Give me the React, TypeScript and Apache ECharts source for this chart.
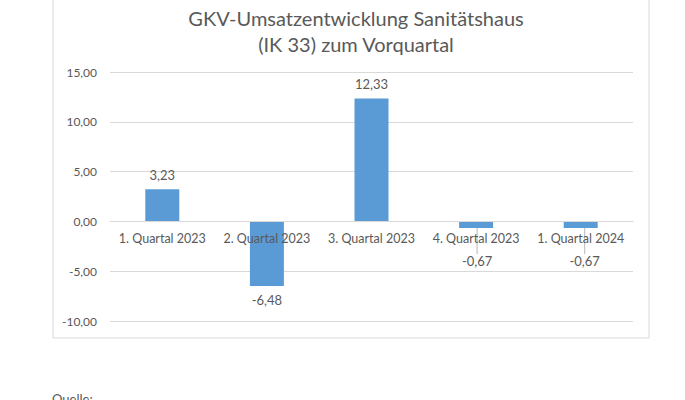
import React, { useEffect, useRef } from "react";
import * as echarts from "echarts";

const categories = ["1. Quartal 2023", "2. Quartal 2023", "3. Quartal 2023", "4. Quartal 2023", "1. Quartal 2024"];
const values = [3.23, -6.48, 12.33, -0.67, -0.67];
const titleLines = ["GKV-Umsatzentwicklung Sanitätshaus", "(IK 33) zum Vorquartal"];
const footerText = "Quelle:";
const movedLabelIndices = [3, 4];
const yMin = -10;
const yMax = 15;

const fmt = (v: number) => v.toFixed(2).replace(".", ",");
const FONT = "Lato, 'Open Sans', sans-serif";
const TXT = "#595959";
const GRID_TOP = 72;
const GRID_BOTTOM = 79;
const H = 400;

export default function App() {
  const ref = useRef<HTMLDivElement>(null);
  useEffect(() => {
    if (!ref.current) return;
    const chart = echarts.init(ref.current, undefined, { renderer: "svg" });
    const gridH = H - GRID_TOP - GRID_BOTTOM;
    const zeroOffset = (gridH * (0 - yMin)) / (yMax - yMin);
    chart.setOption({
      animation: false,
      backgroundColor: "#ffffff",
      textStyle: { fontFamily: FONT },
      title: {
        text: titleLines.join("\n"),
        left: 351,
        top: 0,
        textAlign: "center",
        textStyle: { fontFamily: FONT, fontSize: 20, fontWeight: "normal", color: TXT, lineHeight: 26 },
      },
      grid: { left: 110, right: 52, top: GRID_TOP, bottom: GRID_BOTTOM },
      xAxis: {
        type: "category",
        data: categories,
        z: 10,
        position: "bottom",
        offset: -zeroOffset,
        axisLine: { onZero: false, lineStyle: { color: "#d9d9d9", width: 1 } },
        axisTick: { show: false },
        axisLabel: { color: TXT, fontSize: 12.5, fontFamily: FONT, margin: 11, interval: 0 },
      },
      yAxis: {
        type: "value",
        min: yMin,
        max: yMax,
        interval: 5,
        axisLine: { show: false },
        axisTick: { show: false },
        splitLine: { lineStyle: { color: "#d9d9d9", width: 1 } },
        axisLabel: { color: TXT, fontSize: 12, fontFamily: FONT, margin: 13, formatter: (v: number) => fmt(v) },
      },
      series: [
        {
          type: "bar",
          data: values.map((v, i) => ({
            value: v,
            label: { position: v >= 0 ? "top" : "bottom" },
            labelLine: { show: movedLabelIndices.indexOf(i) >= 0 },
          })),
          barWidth: 34,
          itemStyle: { color: "#5b9bd5" },
          label: {
            show: true,
            distance: 8,
            color: TXT,
            fontSize: 13,
            fontFamily: FONT,
            formatter: (p: any) => fmt(p.value),
          },
          labelLine: { show: false, lineStyle: { color: "#a6a6a6", width: 0.8 } },
          labelLayout: (p: any) =>
            movedLabelIndices.indexOf(p.dataIndex) >= 0 ? { dy: 18, dx: p.dataIndex === 4 ? 4 : 1 } : {},
        },
      ],
      graphic: [
        {
          type: "rect",
          shape: { x: 53, y: -2, width: 596, height: 340 },
          style: { fill: "none", stroke: "#d9d9d9", lineWidth: 1 },
          silent: true,
        },
        {
          type: "text",
          left: 52,
          top: 392,
          style: { text: footerText, fill: TXT, fontSize: 13, fontFamily: FONT },
        },
      ],
    });
    return () => chart.dispose();
  }, []);
  return <div ref={ref} style={{ position: "fixed", left: 0, top: 0, width: 685, height: 400 }} />;
}
